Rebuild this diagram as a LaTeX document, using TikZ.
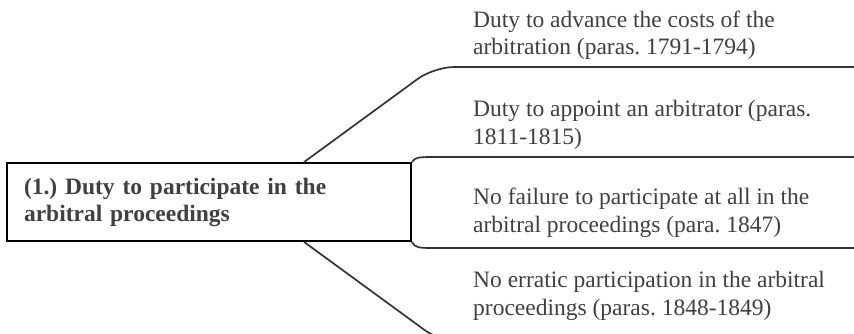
\documentclass[tikz,border=0pt]{standalone}
\usepackage{fontspec}
\setmainfont{Liberation Serif}
\definecolor{txtgray}{HTML}{404040}
\definecolor{linegray}{HTML}{333333}

\begin{document}
\begin{tikzpicture}[x=1pt, y=-1pt,
	every node/.style={
	            font=\fontsize{23.5}{27.5}\selectfont\frenchspacing,
	            text=txtgray
	            },
	root/.style={
	            draw=black,
	            line width=1.8pt,
	            minimum width=404pt,
	            minimum height=78pt,
	            text width=370pt,
	            align=left,
	            font=\fontsize{23.5}{27}\selectfont\bfseries\frenchspacing
	            },
	item/.style={align=left, anchor=base west, inner sep=0pt},
	branch/.style={draw=linegray, line width=1.7pt}]

	        \useasboundingbox (0,0) rectangle (854,333);

	        \node[root] (root) at (209,202) {(1.) Duty to participate in the\\arbitral proceedings};

	        \node[item] (c1) at (473,54.5) {Duty to advance the costs of the\\arbitration (paras. 1791-1794)};
	        \node[item] (c2) at (473,144) {Duty to appoint an arbitrator (paras.\\1811-1815)};
	        \node[item] (c3) at (473,232) {No failure to participate at all in the\\arbitral proceedings (para. 1847)};
	        \node[item] (c4) at (473,315) {No erratic participation in the arbitral\\proceedings (paras. 1848-1849)};

	        \coordinate (e1) at (860,67);
	        \coordinate (e2) at (860,157);
	        \coordinate (e3) at (860,248);
	        \coordinate (e4) at (860,342);

	        \draw[branch, rounded corners=20pt] ([xshift=95pt]root.north) -- (434,67) -- (e1);
	        \draw[branch] (root.north east) .. controls (416,157) .. (440,157) -- (e2);
	        \draw[branch] (root.south east) .. controls (416,248) .. (440,248) -- (e3);
	        \draw[branch, rounded corners=20pt] ([xshift=95pt]root.south) -- (441,342) -- (e4);

	    \end{tikzpicture}
\end{document}
